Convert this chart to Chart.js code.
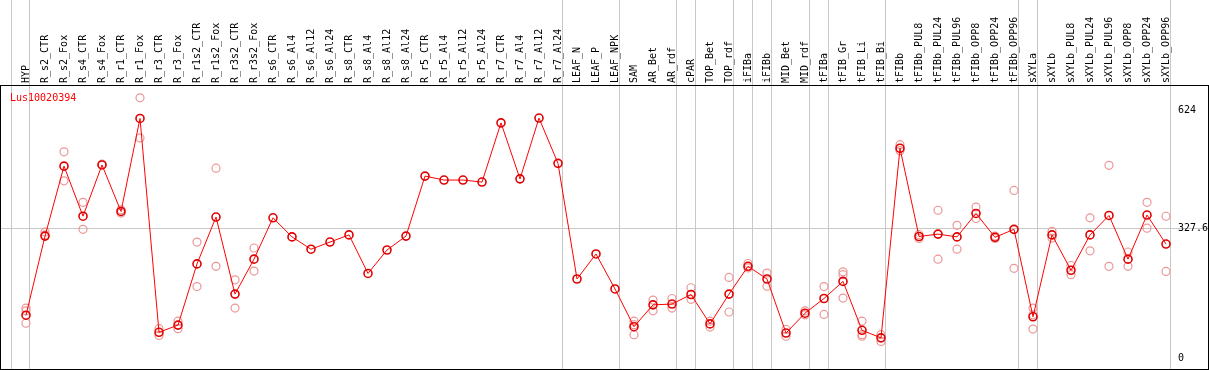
<!DOCTYPE html>
<html>
<head>
<meta charset="utf-8">
<script src="https://cdn.jsdelivr.net/npm/chart.js@4.4.1/dist/chart.umd.min.js"></script>
<style>
  html, body { margin: 0; padding: 0; background: #fff; }
  canvas { display: block; }
</style>
</head>
<body>
<canvas id="chart" width="1209" height="370"></canvas>
<script>
const geneName = 'Lus10020394';

const categories = [
  'HYP', 'R_s2_CTR', 'R_s2_Fox', 'R_s4_CTR', 'R_s4_Fox', 'R_r1_CTR', 'R_r1_Fox',
  'R_r3_CTR', 'R_r3_Fox', 'R_r1s2_CTR', 'R_r1s2_Fox', 'R_r3s2_CTR', 'R_r3s2_Fox',
  'R_s6_CTR', 'R_s6_Al4', 'R_s6_Al12', 'R_s6_Al24', 'R_s8_CTR', 'R_s8_Al4', 'R_s8_Al12',
  'R_s8_Al24', 'R_r5_CTR', 'R_r5_Al4', 'R_r5_Al12', 'R_r5_Al24', 'R_r7_CTR', 'R_r7_Al4',
  'R_r7_Al12', 'R_r7_Al24', 'LEAF_N', 'LEAF_P', 'LEAF_NPK', 'SAM', 'AR_Bet', 'AR_rdf',
  'cPAR', 'TOP_Bet', 'TOP_rdf', 'iFIBa', 'iFIBb', 'MID_Bet', 'MID_rdf', 'tFIBa',
  'tFIB_Gr', 'tFIB_Li', 'tFIB_Bi', 'tFIBb', 'tFIBb_PUL8', 'tFIBb_PUL24', 'tFIBb_PUL96',
  'tFIBb_OPP8', 'tFIBb_OPP24', 'tFIBb_OPP96', 'sXYLa', 'sXYLb', 'sXYLb_PUL8',
  'sXYLb_PUL24', 'sXYLb_PUL96', 'sXYLb_OPP8', 'sXYLb_OPP24', 'sXYLb_OPP96'
];

// mean expression per sample (the joined line)
const meanValues = [
  109, 308, 484, 358, 487, 370, 604, 66, 84, 238, 356, 162, 250,
  354, 306, 275, 293, 311, 214, 273, 308, 459, 449, 449, 444, 593, 452, 605, 491,
  200, 263, 175, 80, 135, 137, 161, 87, 162, 232, 200, 64, 114, 151, 194, 71, 52,
  529, 307, 313, 306, 365, 305, 325, 105, 311, 222, 311, 360, 250, 361, 288
];

// single replicates (open pink circles), null = not shown
const repA = [
  127, 318, 520, 393, 489, 374, 656, 75, 94, 293, 479, 198, 278,
  null, null, null, null, null, null, null, null, null, null,
  null, null, null, null, null, null, null, null, null,
  94, 147, 151, 178, 94, 204, 239, 215, 73, 120, 181, 218, 94, 60,
  538, 312, 373, 335, 381, 308, 423, 127, 320, 234, 354, 486, 268, 393, 358
];
const repB = [
  120, 311, 447, 325, null, 366, 555, 58, 75, 181, 232, 127, 220,
  null, null, null, null, null, null, null, null, null, null,
  null, null, null, null, null, null, null, null, null,
  85, 120, 127, 149, 79, 117, 228, 182, 56, 110, 111, 211, 60, 43,
  523, 302, 250, 275, 352, 302, 227, 110, 303, 211, 271, 232, 232, 328, 219
];
const repC = [
  89, null, null, null, null, null, null, null, null, null,
  null, null, null, null, null, null, null, null, null, null,
  null, null, null, null, null, null, null, null, null, null,
  null, null, 60, null, null, null, null, null, null, null,
  null, null, null, 152, 56, null, null, null, null, null,
  null, null, null, 74, null, null, null, null, null, null, null
];

// index of the last sample in each group (separator lines)
const groupEnds = [-1, 0, 28, 31, 34, 35, 37, 38, 39, 41, 42, 45, 52, 53, 60];
const yTicks = [0, 327.6, 624];

const FONT = "'DejaVu Sans Mono', monospace";
const GRID = '#c8c8c8';
const SEP_OFFSET = 4 / 19;   // separators sit just right of the label column

const toPoints = arr => arr.map((v, i) => ({x: i, y: v})).filter(p => p.y !== null);
const isSep = v => !Number.isInteger(v);

const frame = {
  id: 'frame',
  afterDraw(chart) {
    const {ctx, chartArea: a} = chart;
    ctx.save();
    ctx.strokeStyle = '#000';
    ctx.lineWidth = 1;
    ctx.strokeRect(a.left + 0.5, a.top + 0.5, a.right - a.left, a.bottom - a.top - 1);
    ctx.fillStyle = '#ff0000';
    ctx.font = '10px ' + FONT;
    ctx.textBaseline = 'middle';
    ctx.fillText(geneName, a.left + 10, a.top + 13);
    ctx.restore();
  }
};

function repDataset(arr) {
  return {
    data: toPoints(arr),
    showLine: false,
    pointRadius: 4,
    pointBorderWidth: 1.2,
    pointBorderColor: 'rgb(236,150,150)',
    pointBackgroundColor: 'rgba(0,0,0,0)'
  };
}

new Chart(document.getElementById('chart'), {
  type: 'scatter',
  data: {
    datasets: [
      {
        data: toPoints(meanValues),
        showLine: true,
        borderColor: '#ff0000',
        borderWidth: 1,
        pointRadius: 4,
        pointBorderWidth: 1.6,
        pointBorderColor: '#e00000',
        pointBackgroundColor: 'rgba(0,0,0,0)'
      },
      repDataset(repA),
      repDataset(repB),
      repDataset(repC)
    ]
  },
  options: {
    responsive: false,
    animation: false,
    events: [],
    layout: { padding: 0, autoPadding: false },
    plugins: { legend: { display: false }, tooltip: { enabled: false } },
    scales: {
      x: {
        type: 'linear',
        position: 'top',
        min: -26 / 19,
        max: -26 / 19 + 1208 / 19,
        afterBuildTicks: ax => {
          const vals = categories.map((_, i) => i).concat(groupEnds.map(i => i + SEP_OFFSET));
          ax.ticks = vals.sort((a, b) => a - b).map(v => ({value: v}));
        },
        afterFit: ax => { ax.height = 85; ax.paddingLeft = 0; ax.paddingRight = 0; },
        grid: {
          color: c => (c.tick && isSep(c.tick.value)) ? GRID : 'rgba(0,0,0,0)',
          tickLength: 85,
          lineWidth: 1
        },
        border: { display: false },
        ticks: {
          autoSkip: false,
          minRotation: 90,
          maxRotation: 90,
          padding: -83,
          labelOffset: 12,
          color: '#000',
          font: { family: FONT, size: 10 },
          callback: v => isSep(v) ? '' : categories[v]
        }
      },
      y: {
        position: 'right',
        min: -28.94,
        max: 688.2,
        afterBuildTicks: ax => { ax.ticks = yTicks.map(v => ({value: v})); },
        afterFit: ax => { ax.width = 1; ax.paddingTop = 0; ax.paddingBottom = 0; },
        grid: {
          color: c => (c.tick && c.tick.value === yTicks[1]) ? GRID : 'rgba(0,0,0,0)',
          drawTicks: false
        },
        border: { display: false },
        ticks: {
          mirror: true,
          crossAlign: 'far',
          padding: 0,
          color: '#000',
          font: { family: FONT, size: 10 },
          callback: v => String(v)
        }
      }
    }
  },
  plugins: [frame]
});
</script>
</body>
</html>
